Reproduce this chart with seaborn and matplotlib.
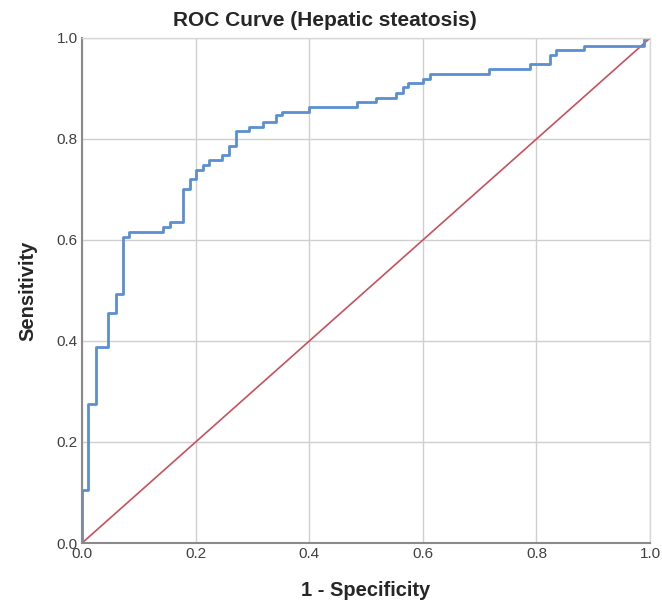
import numpy as np
import pandas as pd
import matplotlib
matplotlib.use("Agg")
import matplotlib.pyplot as plt
import seaborn as sns

# ROC noktalari (1 - ozgulluk, duyarlilik)
fpr = [0.0, 0.0, 0.011, 0.024, 0.046, 0.059, 0.072, 0.082, 0.117, 0.143,
       0.154, 0.177, 0.190, 0.200, 0.212, 0.224, 0.247, 0.259, 0.271, 0.294,
       0.318, 0.341, 0.352, 0.400, 0.484, 0.518, 0.553, 0.565, 0.573, 0.601,
       0.613, 0.717, 0.789, 0.824, 0.835, 0.883, 0.989, 1.0]
tpr = [0.0, 0.105, 0.275, 0.389, 0.456, 0.493, 0.606, 0.616, 0.616, 0.626,
       0.636, 0.701, 0.720, 0.739, 0.748, 0.758, 0.768, 0.787, 0.816, 0.824,
       0.834, 0.848, 0.854, 0.863, 0.873, 0.882, 0.892, 0.902, 0.911, 0.919,
       0.928, 0.938, 0.948, 0.966, 0.976, 0.985, 1.0, 1.0]
ref_line = [0.0, 1.0]
ticks = [0.0, 0.2, 0.4, 0.6, 0.8, 1.0]

df = pd.DataFrame({'fpr': fpr, 'tpr': tpr})
ref = pd.DataFrame({'x': ref_line, 'y': ref_line})

sns.set_style('white')
plt.rcParams['font.family'] = ['Liberation Sans', 'DejaVu Sans']

fig = plt.figure(figsize=(6.62, 6.03), dpi=100)
ax = fig.add_axes([0.124, 0.0995, 0.858, 0.8375])

# Referans cizgisi
sns.lineplot(data=ref, x='x', y='y', color='#c9505c', linewidth=1.2, ax=ax)
# ROC egrisi
sns.lineplot(data=df, x='fpr', y='tpr', sort=False, estimator=None,
             drawstyle='steps-post', color='#5b8ed2', linewidth=2.0, ax=ax)

ax.set_xlim(0, 1)
ax.set_ylim(0, 1)
ax.set_xticks(ticks)
ax.set_yticks(ticks)
ax.set_xticklabels([f'{t:.1f}' for t in ticks], fontsize=11, color='#404040')
ax.set_yticklabels([f'{t:.1f}' for t in ticks], fontsize=11, color='#404040')
ax.tick_params(length=0, pad=3)
ax.grid(True, color='#cfcfcf', linewidth=1.0)
ax.set_axisbelow(True)

for s in ['top', 'right']:
    ax.spines[s].set_color('#d8d8d8')
    ax.spines[s].set_linewidth(1.0)
for s in ['left', 'bottom']:
    ax.spines[s].set_color('#8a8a8a')
    ax.spines[s].set_linewidth(1.5)

ax.set_xlabel('1 - Specificity', fontsize=14.5, fontweight='bold', labelpad=14)
ax.set_ylabel('Sensitivity', fontsize=14.5, fontweight='bold', labelpad=14)
fig.text(325 / 662, 1 - 20 / 603, 'ROC Curve (Hepatic steatosis)',
         ha='center', va='center', fontsize=15, fontweight='bold')

fig.savefig('out.png', dpi=100)
